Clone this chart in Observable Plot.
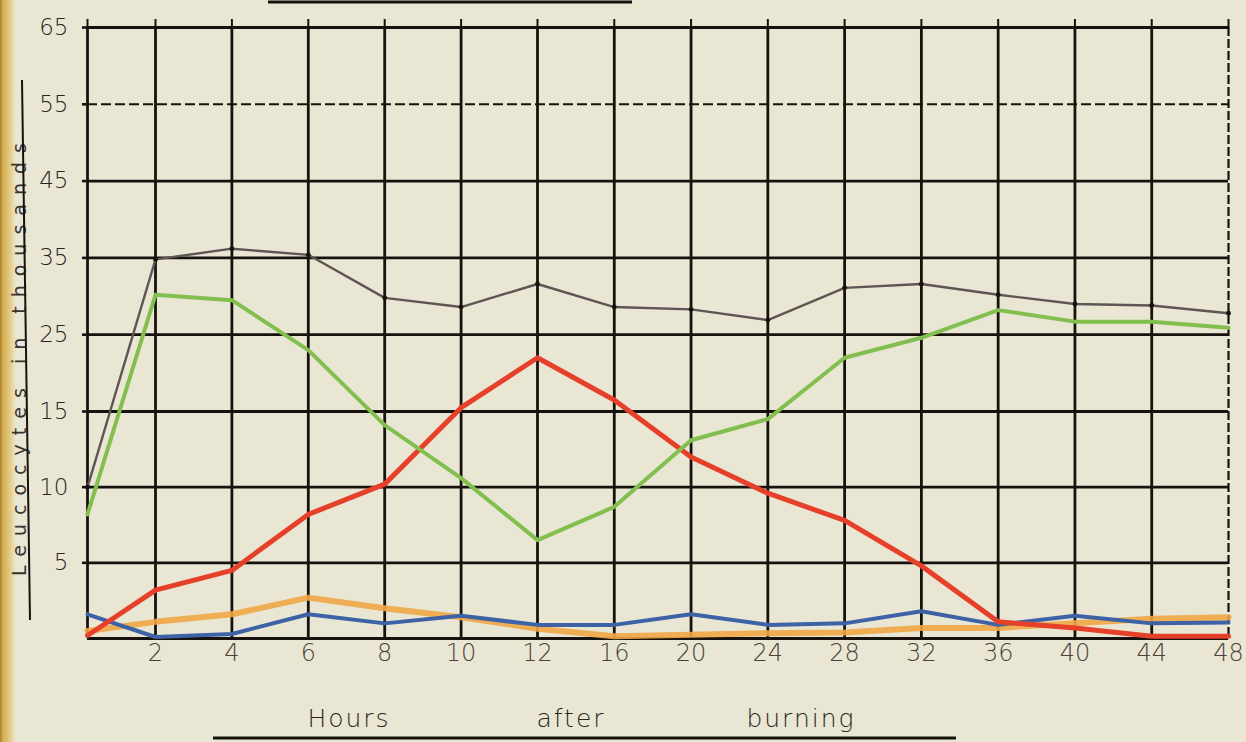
<!DOCTYPE html>
<html><head><meta charset="utf-8">
<script src="https://cdn.jsdelivr.net/npm/d3@7"></script>
<script src="https://cdn.jsdelivr.net/npm/@observablehq/plot@0.6"></script>
<style>
html,body{margin:0;padding:0;background:#e9e7d4;}
#wrap{position:relative;width:1246px;height:742px;overflow:hidden;background:#e9e7d4;}
#band{position:absolute;left:0;top:0;width:16px;height:742px;background:linear-gradient(to right,#a88230 0,#d4ad52 3px,#e0c370 8px,rgba(233,231,212,0) 16px);}
#chart{position:absolute;left:0;top:0;}
</style></head><body><div id="wrap"><div id="band"></div><div id="chart"></div></div>
<script>
// Hours after burning (x) and leucocyte counts in thousands (y)
const hours = [0, 2, 4, 6, 8, 10, 12, 16, 20, 24, 28, 32, 36, 40, 44, 48];
const greySeries   = [10, 34.8, 36.2, 35.4, 29.8, 28.6, 31.6, 28.6, 28.3, 26.9, 31.1, 31.6, 30.2, 29.0, 28.8, 27.8];
const greenSeries  = [8.2, 30.2, 29.5, 23, 14.1, 10.6, 6.5, 8.7, 13.1, 14.5, 22, 24.6, 28.2, 26.7, 26.7, 25.9];
const redSeries    = [0.2, 3.2, 4.5, 8.2, 10.2, 15.5, 22, 16.5, 12, 9.6, 7.8, 4.8, 1.1, 0.7, 0.15, 0.15];
const blueSeries   = [1.6, 0.1, 0.3, 1.6, 1.0, 1.5, 0.9, 0.9, 1.6, 0.9, 1.0, 1.8, 0.9, 1.5, 1.0, 1.05];
const orangeSeries = [0.5, 1.1, 1.6, 2.7, 2.0, 1.4, 0.65, 0.15, 0.25, 0.35, 0.4, 0.7, 0.7, 1.0, 1.3, 1.4];
const xTicks = [2, 4, 6, 8, 10, 12, 16, 20, 24, 28, 32, 36, 40, 44, 48];
const yTicks = [5, 10, 15, 25, 35, 45, 55, 65];
const xGrid = [0, ...xTicks];
const yGrid = [0, ...yTicks];
const xLabelWords = ["Hours", "after", "burning"];
const yLabel = "Leucocytes in thousands";

const rows = s => hours.map((h, i) => ({h, v: s[i]}));
const ink = "#17120e";

const chart = Plot.plot({
  width: 1246, height: 742,
  marginLeft: 87, marginRight: 18, marginTop: 27, marginBottom: 104,
  style: {background: "transparent", fontFamily: "DejaVu Sans, sans-serif", color: "#2b241d"},
  x: {type: "linear", domain: [0, 2, 12, 48], range: [87, 155, 537, 1228]},
  y: {type: "linear", domain: [0, 15, 65], range: [638, 411, 27]},
  marks: [
    Plot.ruleX(xGrid.filter(d => d !== 48), {stroke: ink, strokeWidth: 2.8}),
    Plot.ruleX([48], {stroke: ink, strokeWidth: 2.2, strokeDasharray: "9,3"}),
    Plot.ruleY(yGrid.filter(d => d !== 55), {stroke: ink, strokeWidth: 2.8}),
    Plot.ruleY([55], {stroke: ink, strokeWidth: 2, strokeDasharray: "10,4"}),
    Plot.axisX({ticks: xTicks, tickSize: 0, tickPadding: 5, fontSize: 24, fontWeight: 300, label: null, fill: "#4a4238"}),
    Plot.axisX({anchor: "top", ticks: xGrid, tickSize: 9, tickFormat: () => "", label: null, stroke: ink, strokeWidth: 2}),
    Plot.axisY({ticks: yTicks, tickSize: 5, tickPadding: 14, fontSize: 23, fontWeight: 300, label: null, stroke: ink, strokeWidth: 2.6, fill: "#2b241d"}),
    Plot.line(rows(orangeSeries), {x: "h", y: "v", stroke: "#f0a646", strokeWidth: 6, strokeOpacity: 0.9}),
    Plot.line(rows(blueSeries), {x: "h", y: "v", stroke: "#3d62a6", strokeWidth: 4}),
    Plot.line(rows(redSeries), {x: "h", y: "v", stroke: "#e6402a", strokeWidth: 5}),
    Plot.line(rows(greenSeries), {x: "h", y: "v", stroke: "#82bf4f", strokeWidth: 4}),
    Plot.line(rows(greySeries), {x: "h", y: "v", stroke: "#5e5554", strokeWidth: 2.4}),
    Plot.dot(rows(greySeries), {x: "h", y: "v", r: 2.4, fill: ink})
  ]
});
document.getElementById("chart").appendChild(chart);

const svg = d3.select(chart);
// x-axis title, hand-lettered words with underline
const wordX = [349, 571, 801];
svg.selectAll("text.xl").data(xLabelWords).join("text")
  .attr("class", "xl")
  .attr("x", (d, i) => wordX[i]).attr("y", 727)
  .attr("text-anchor", "middle")
  .attr("font-family", "DejaVu Sans, sans-serif")
  .attr("font-size", 25).attr("font-weight", 300).attr("letter-spacing", 2)
  .attr("fill", "#2b241d")
  .text(d => d);
svg.append("line").attr("x1", 213).attr("x2", 956).attr("y1", 738).attr("y2", 738)
  .attr("stroke", ink).attr("stroke-width", 3);
svg.append("line").attr("x1", 268).attr("x2", 632).attr("y1", 2).attr("y2", 2)
  .attr("stroke", ink).attr("stroke-width", 3);
// y-axis title, rotated, with underline
svg.append("text")
  .attr("transform", "translate(26,355) rotate(-90)")
  .attr("text-anchor", "middle")
  .attr("font-family", "DejaVu Sans, sans-serif")
  .attr("font-size", 19).attr("letter-spacing", 9)
  .attr("fill", "#3a332b")
  .text(yLabel);
svg.append("line").attr("x1", 22).attr("x2", 30).attr("y1", 80).attr("y2", 620)
  .attr("stroke", ink).attr("stroke-width", 2);
</script>
</body></html>
